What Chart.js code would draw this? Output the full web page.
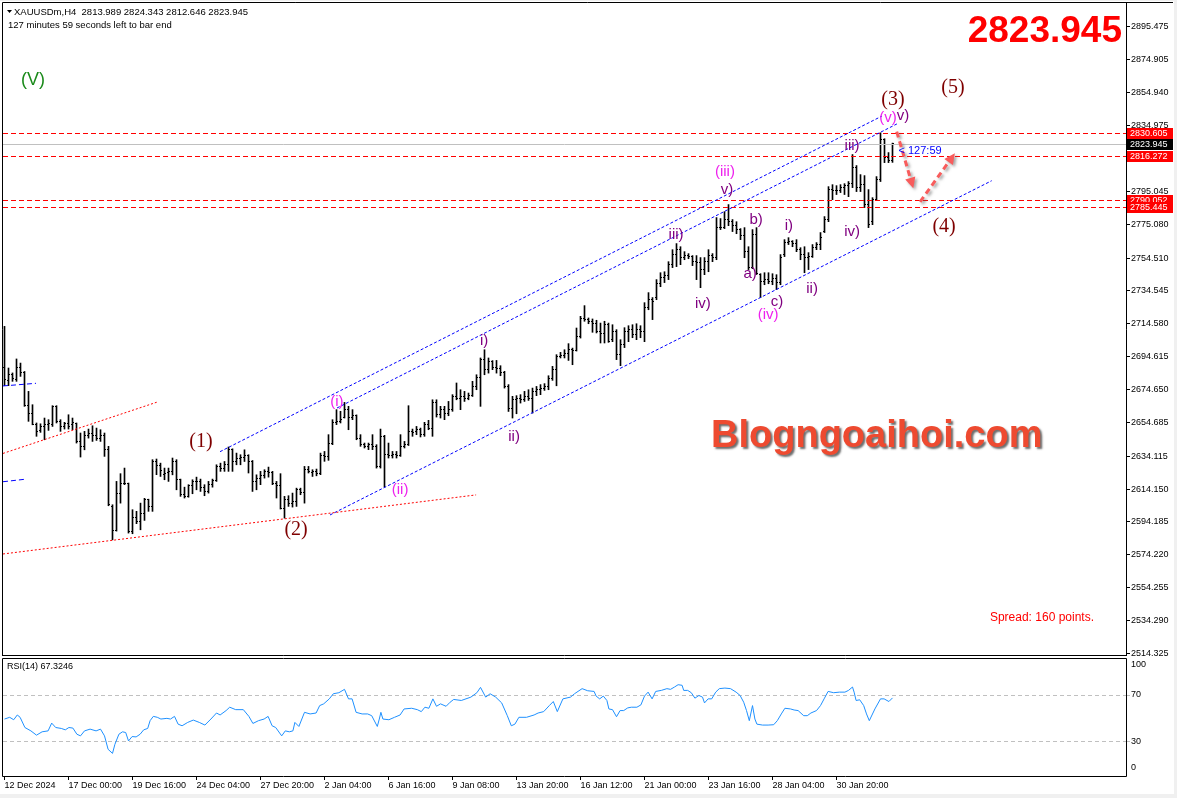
<!DOCTYPE html>
<html>
<head>
<meta charset="utf-8">
<script src="https://cdn.jsdelivr.net/npm/chart.js@4.4.1/dist/chart.umd.min.js"></script>
<style>
  html, body { margin: 0; padding: 0; background: #f0f0f0; }
  #win { position: absolute; left: 0; top: 1px; width: 1174px; height: 793px; background: #fff; }
  canvas { position: absolute; left: 0; }
  #main { top: 0; }
  #rsi { top: 658px; }
</style>
</head>
<body>
<div id="win"></div>
<canvas id="main" width="1177" height="658"></canvas>
<canvas id="rsi" width="1177" height="140"></canvas>
<script>
// H4 bars, XAUUSDm, 12 Dec 2024 .. 31 Jan 2025
const OPEN = [
  2688.0, 2680.2, 2683.6, 2680.6, 2688.3, 2685.0, 2665.0, 2660.3, 2653.2, 2649.8,
  2652.2, 2653.2, 2653.2, 2664.4, 2654.9, 2652.2, 2653.8, 2653.2, 2653.8, 2643.1,
  2640.1, 2646.6, 2647.8, 2646.6, 2645.1, 2646.6, 2638.0, 2603.6, 2589.0, 2611.7,
  2617.4, 2617.4, 2588.4, 2597.1, 2594.5, 2599.6, 2607.7, 2603.6, 2631.0, 2628.3,
  2622.8, 2624.3, 2624.9, 2630.9, 2619.8, 2610.7, 2609.7, 2616.2, 2618.8, 2618.8,
  2615.3, 2612.7, 2616.8, 2619.4, 2627.9, 2626.9, 2628.9, 2638.0, 2630.9, 2633.0,
  2633.6, 2634.4, 2630.9, 2618.8, 2620.8, 2622.2, 2624.9, 2624.3, 2617.8, 2616.2,
  2602.6, 2608.1, 2605.6, 2606.6, 2613.7, 2612.1, 2625.9, 2624.3, 2624.9, 2623.9,
  2634.4, 2634.0, 2642.1, 2654.3, 2655.3, 2657.9, 2662.4, 2657.9, 2658.7, 2645.1,
  2641.1, 2640.1, 2641.1, 2640.1, 2627.9, 2646.2, 2635.0, 2634.4, 2635.0, 2634.4,
  2640.1, 2641.1, 2649.2, 2649.2, 2650.2, 2647.2, 2653.3, 2651.2, 2666.8, 2659.3,
  2662.4, 2659.9, 2662.4, 2670.5, 2669.0, 2670.5, 2669.4, 2670.9, 2676.5, 2682.2,
  2692.7, 2686.7, 2691.7, 2688.3, 2687.7, 2685.0, 2676.5, 2662.8, 2668.4, 2669.4,
  2668.8, 2670.1, 2669.4, 2673.5, 2674.5, 2675.5, 2676.5, 2681.6, 2686.7, 2694.8,
  2695.2, 2696.4, 2698.8, 2698.5, 2706.9, 2717.5, 2717.1, 2716.1, 2715.0, 2710.0,
  2708.6, 2714.0, 2704.9, 2709.8, 2695.8, 2701.9, 2709.8, 2711.0, 2708.0, 2711.0,
  2709.8, 2724.4, 2729.2, 2730.4, 2739.0, 2742.6, 2743.8, 2750.5, 2756.6, 2759.6,
  2754.8, 2756.0, 2755.4, 2752.3, 2752.0, 2747.5, 2752.3, 2756.0, 2754.8, 2773.0,
  2773.2, 2777.9, 2776.6, 2774.2, 2771.8, 2768.1, 2758.4, 2748.7, 2768.7, 2744.4,
  2740.2, 2741.4, 2740.2, 2742.0, 2739.6, 2756.6, 2763.9, 2764.5, 2763.3, 2759.6,
  2756.6, 2754.8, 2755.4, 2760.8, 2762.7, 2770.6, 2777.9, 2796.1, 2795.5, 2795.8,
  2797.3, 2798.5, 2799.7, 2809.5, 2797.3, 2799.1, 2787.0, 2776.6, 2790.0, 2802.2,
  2826.5, 2815.6, 2813.989
];
const HIGH = [
  2713.0, 2687.7, 2684.7, 2693.2, 2690.7, 2685.6, 2673.5, 2665.4, 2654.3, 2653.8,
  2657.3, 2656.3, 2664.8, 2664.8, 2656.3, 2654.7, 2659.3, 2657.3, 2654.3, 2648.2,
  2649.2, 2650.6, 2652.6, 2651.2, 2650.2, 2648.2, 2640.1, 2604.6, 2618.8, 2623.5,
  2626.9, 2617.8, 2601.6, 2600.6, 2605.6, 2608.5, 2608.0, 2632.0, 2632.4, 2629.9,
  2626.9, 2626.9, 2633.0, 2632.0, 2620.2, 2615.3, 2616.8, 2619.8, 2621.4, 2620.2,
  2616.8, 2618.8, 2620.2, 2628.9, 2629.9, 2630.9, 2639.7, 2638.6, 2636.0, 2635.0,
  2638.0, 2635.0, 2631.5, 2622.8, 2624.9, 2625.9, 2627.5, 2624.9, 2618.8, 2623.5,
  2609.7, 2610.1, 2611.7, 2614.7, 2614.7, 2627.9, 2627.9, 2625.9, 2626.3, 2636.0,
  2637.0, 2647.2, 2656.3, 2662.4, 2661.4, 2666.8, 2664.4, 2662.4, 2659.2, 2647.2,
  2642.1, 2642.1, 2647.2, 2641.1, 2650.6, 2646.8, 2642.1, 2637.0, 2637.0, 2647.2,
  2643.1, 2664.8, 2650.6, 2652.2, 2651.2, 2654.7, 2655.9, 2668.4, 2668.4, 2664.4,
  2664.4, 2667.4, 2671.5, 2678.6, 2674.5, 2673.5, 2672.5, 2679.6, 2683.6, 2693.8,
  2698.8, 2693.8, 2692.2, 2692.3, 2689.1, 2685.7, 2677.6, 2670.5, 2670.9, 2671.5,
  2673.5, 2674.5, 2675.5, 2676.5, 2677.6, 2678.2, 2683.0, 2688.7, 2695.8, 2697.2,
  2698.8, 2702.5, 2699.8, 2712.0, 2719.1, 2725.6, 2718.1, 2717.5, 2716.7, 2715.0,
  2716.1, 2715.0, 2714.0, 2711.0, 2704.9, 2712.2, 2713.4, 2714.0, 2714.6, 2713.4,
  2727.4, 2733.5, 2730.5, 2741.4, 2745.6, 2746.2, 2752.3, 2759.6, 2763.3, 2761.4,
  2758.4, 2757.2, 2756.0, 2756.0, 2754.8, 2754.8, 2759.6, 2757.2, 2779.1, 2778.5,
  2782.7, 2787.0, 2777.9, 2776.6, 2772.4, 2773.0, 2761.4, 2771.8, 2773.0, 2745.0,
  2745.6, 2745.6, 2745.0, 2744.4, 2756.6, 2765.7, 2766.9, 2765.1, 2765.7, 2760.8,
  2761.4, 2757.8, 2762.7, 2763.9, 2770.0, 2779.7, 2797.9, 2799.1, 2798.5, 2799.1,
  2799.7, 2801.0, 2817.4, 2810.7, 2805.2, 2804.6, 2796.1, 2791.2, 2804.0, 2830.6,
  2827.0, 2818.6, 2824.343
];
const LOW = [
  2677.0, 2677.0, 2679.6, 2679.6, 2682.6, 2664.4, 2655.3, 2653.2, 2646.2, 2648.6,
  2644.1, 2649.8, 2652.2, 2654.3, 2649.2, 2650.6, 2650.6, 2650.2, 2642.1, 2633.6,
  2638.0, 2645.1, 2643.1, 2643.7, 2643.1, 2634.0, 2604.0, 2583.3, 2588.6, 2605.6,
  2616.8, 2587.4, 2587.0, 2593.1, 2589.4, 2595.1, 2600.6, 2600.6, 2622.9, 2621.8,
  2619.8, 2618.8, 2622.8, 2613.7, 2609.7, 2608.7, 2609.2, 2611.3, 2613.7, 2612.7,
  2610.1, 2611.7, 2615.3, 2618.8, 2624.9, 2624.9, 2624.9, 2624.9, 2628.9, 2628.9,
  2630.9, 2623.9, 2612.7, 2613.7, 2616.8, 2620.8, 2621.4, 2616.8, 2608.7, 2602.0,
  2596.5, 2603.6, 2603.2, 2603.6, 2610.7, 2605.6, 2623.9, 2621.8, 2622.2, 2622.9,
  2631.0, 2631.6, 2641.1, 2653.3, 2654.3, 2657.3, 2650.2, 2656.3, 2644.1, 2640.1,
  2639.1, 2638.1, 2638.1, 2626.9, 2626.9, 2615.4, 2633.0, 2633.0, 2633.0, 2634.0,
  2639.1, 2640.6, 2646.2, 2647.2, 2645.8, 2646.2, 2650.2, 2646.2, 2657.9, 2657.3,
  2656.3, 2658.7, 2661.4, 2668.4, 2662.4, 2667.4, 2668.4, 2670.4, 2674.5, 2664.4,
  2683.6, 2684.6, 2686.7, 2684.6, 2683.0, 2675.5, 2661.3, 2657.3, 2659.9, 2666.4,
  2667.4, 2668.0, 2660.3, 2670.9, 2671.5, 2674.1, 2674.5, 2680.2, 2676.9, 2693.8,
  2693.8, 2692.3, 2689.7, 2698.0, 2705.9, 2716.1, 2714.6, 2709.4, 2709.0, 2702.9,
  2702.9, 2703.3, 2703.7, 2692.8, 2689.1, 2700.1, 2703.7, 2706.1, 2704.9, 2706.1,
  2703.7, 2723.1, 2717.1, 2729.2, 2737.1, 2739.6, 2741.4, 2748.7, 2749.3, 2750.5,
  2753.5, 2754.1, 2749.9, 2741.4, 2736.5, 2744.4, 2746.2, 2752.3, 2753.5, 2771.8,
  2772.4, 2774.2, 2770.6, 2769.3, 2765.7, 2754.7, 2747.5, 2748.1, 2744.5, 2730.4,
  2738.3, 2738.9, 2738.3, 2735.3, 2738.3, 2755.4, 2762.7, 2761.4, 2758.4, 2753.5,
  2745.6, 2747.5, 2754.9, 2759.6, 2759.6, 2770.0, 2776.6, 2790.0, 2793.1, 2794.3,
  2793.1, 2791.8, 2797.3, 2794.9, 2794.9, 2785.2, 2773.0, 2774.8, 2789.5, 2801.0,
  2812.5, 2812.5, 2812.646
];
const CLOSE = [
  2680.5, 2683.6, 2681.2, 2688.3, 2685.0, 2665.0, 2660.3, 2653.6, 2649.2, 2652.2,
  2653.2, 2653.8, 2664.4, 2654.9, 2652.2, 2653.8, 2652.2, 2654.3, 2643.1, 2640.1,
  2646.6, 2647.8, 2646.6, 2645.1, 2646.6, 2638.0, 2604.6, 2589.0, 2611.7, 2617.4,
  2617.8, 2588.4, 2597.1, 2594.5, 2599.6, 2607.7, 2603.6, 2631.0, 2628.3, 2625.3,
  2623.5, 2624.9, 2630.9, 2619.8, 2610.7, 2609.7, 2616.2, 2618.8, 2618.6, 2615.3,
  2612.7, 2616.8, 2619.4, 2627.9, 2626.9, 2628.9, 2638.0, 2630.9, 2633.0, 2633.6,
  2634.4, 2630.9, 2618.8, 2620.8, 2622.2, 2624.9, 2624.3, 2617.8, 2616.2, 2602.6,
  2608.1, 2605.6, 2606.6, 2613.7, 2612.1, 2625.9, 2624.9, 2624.9, 2623.9, 2634.4,
  2634.0, 2642.1, 2654.3, 2655.3, 2656.3, 2662.4, 2657.9, 2658.7, 2645.1, 2641.1,
  2640.1, 2641.1, 2640.1, 2627.9, 2646.2, 2635.0, 2634.4, 2635.0, 2634.4, 2640.1,
  2641.1, 2649.2, 2648.8, 2650.2, 2647.2, 2653.3, 2651.2, 2666.8, 2659.3, 2662.4,
  2659.9, 2662.4, 2670.5, 2669.1, 2670.5, 2669.4, 2670.9, 2676.5, 2682.2, 2692.7,
  2686.7, 2691.7, 2688.3, 2687.7, 2685.0, 2676.5, 2662.8, 2668.4, 2669.4, 2668.8,
  2670.1, 2669.4, 2673.5, 2674.5, 2675.5, 2676.5, 2681.6, 2686.7, 2694.8, 2695.2,
  2696.4, 2698.8, 2698.5, 2706.9, 2717.5, 2717.1, 2716.1, 2715.0, 2710.0, 2708.6,
  2714.0, 2703.9, 2709.8, 2695.8, 2701.9, 2709.8, 2711.0, 2708.0, 2711.0, 2709.8,
  2724.4, 2729.2, 2728.0, 2739.0, 2742.6, 2743.8, 2750.5, 2756.6, 2759.6, 2754.8,
  2756.0, 2755.4, 2752.3, 2752.0, 2747.5, 2752.3, 2756.0, 2754.8, 2773.0, 2773.2,
  2777.9, 2776.6, 2774.2, 2771.8, 2768.1, 2758.4, 2748.7, 2768.7, 2745.0, 2740.2,
  2741.4, 2740.2, 2742.0, 2739.6, 2754.8, 2763.9, 2764.5, 2763.3, 2759.6, 2756.6,
  2754.8, 2755.4, 2760.8, 2762.7, 2766.9, 2777.9, 2796.1, 2795.5, 2795.8, 2797.3,
  2798.5, 2799.7, 2809.5, 2797.3, 2799.1, 2787.0, 2774.8, 2790.0, 2802.2, 2826.5,
  2815.6, 2814.0, 2823.945
];

// RSI(14) read at bar positions
const RSI_X = [
  0, 1.3, 2.3, 3.2, 3.9, 5.1, 6.6, 8.0, 9.4, 10.9,
  11.8, 12.8, 14.2, 15.2, 16.1, 17.1, 18.1, 19.0, 20.0, 21.4,
  22.9, 24.0, 25.0, 25.9, 27.0, 27.6, 28.6, 29.5, 30.3, 31.0,
  31.9, 32.9, 33.9, 34.8, 35.8, 36.4, 37.2, 38.2, 39.1, 40.6,
  41.5, 42.5, 43.4, 44.4, 45.8, 47.2, 48.7, 50.1, 51.6, 53.0,
  53.9, 55.4, 56.3, 57.8, 59.7, 61.1, 62.1, 63.5, 64.9, 65.9,
  66.9, 67.8, 69.3, 70.2, 71.2, 72.1, 72.6, 73.6, 75.0, 76.4,
  77.9, 78.8, 79.8, 81.2, 82.2, 83.6, 85.0, 86.0, 86.9, 87.9,
  89.4, 90.8, 91.8, 93.2, 93.7, 94.1, 94.6, 96.1, 97.5, 98.9,
  99.9, 101.8, 103.2, 104.2, 105.1, 106.1, 107.1, 108.0, 109.0, 110.4,
  111.4, 112.3, 114.2, 116.6, 118.1, 119.0, 120.3, 121.4, 122.8, 124.3,
  125.7, 126.7, 127.6, 128.6, 130.5, 132.4, 133.4, 134.8, 136.2, 137.2,
  138.2, 139.6, 141.5, 142.5, 144.4, 145.8, 147.4, 147.9, 148.8, 149.7,
  150.6, 151.1, 152.0, 153.0, 153.9, 154.8, 155.8, 156.7, 158.1, 159.1,
  160.0, 160.9, 161.9, 162.8, 164.2, 165.6, 166.5, 167.5, 168.4, 169.4,
  169.8, 170.8, 171.7, 172.6, 173.6, 174.5, 175.0, 175.9, 176.8, 177.8,
  178.7, 180.1, 181.5, 182.9, 183.9, 184.8, 185.5, 186.2, 187.0, 187.6,
  188.1, 189.5, 190.9, 192.3, 193.2, 194.2, 195.1, 196.5, 197.4, 198.4,
  199.8, 200.7, 201.6, 203.0, 204.0, 204.9, 205.9, 207.3, 208.7, 210.1,
  211.0, 212.0, 212.4, 212.9, 213.8, 214.8, 215.5, 216.2, 217.6, 219.0,
  219.9, 221.1, 222
];
const RSI_Y = [
  49.1, 50.6, 48.5, 52.6, 50.6, 41.8, 38.9, 35.2, 38.1, 38.9,
  45.6, 41.8, 41.0, 39.8, 41.8, 41.3, 36.0, 34.6, 38.9, 40.4,
  38.9, 40.4, 34.6, 23.0, 19.5, 27.3, 36.0, 38.1, 37.5, 30.2,
  34.0, 33.7, 36.0, 39.8, 41.0, 47.7, 51.4, 50.6, 49.1, 49.7,
  49.1, 51.4, 44.7, 43.3, 46.2, 48.2, 46.2, 43.9, 49.1, 54.3,
  52.6, 56.4, 59.3, 57.2, 57.2, 51.4, 45.3, 47.7, 49.1, 51.4,
  43.3, 41.8, 34.6, 38.9, 38.1, 38.9, 46.2, 42.7, 54.9, 53.5,
  54.3, 60.7, 62.2, 66.5, 70.9, 71.8, 74.7, 66.5, 66.5, 54.9,
  53.5, 53.5, 52.0, 42.7, 49.1, 54.9, 49.1, 48.5, 50.6, 52.6,
  57.8, 58.4, 57.2, 55.5, 59.3, 58.4, 66.5, 60.1, 62.2, 60.1,
  63.6, 66.0, 65.1, 68.0, 71.8, 76.4, 68.0, 70.9, 68.0, 63.0,
  52.0, 43.3, 44.7, 50.6, 50.6, 52.6, 54.3, 55.5, 60.7, 64.2,
  55.5, 66.5, 68.0, 70.9, 75.3, 73.5, 72.9, 68.9, 66.5, 68.9,
  65.1, 57.8, 57.2, 51.1, 56.4, 56.4, 58.7, 59.3, 59.3, 61.3,
  68.9, 72.3, 66.5, 72.9, 73.8, 75.3, 74.7, 76.7, 78.7, 78.2,
  73.8, 73.8, 71.8, 67.1, 69.4, 68.0, 63.0, 66.5, 66.5, 72.3,
  75.3, 75.8, 75.3, 72.3, 69.4, 63.6, 56.4, 47.7, 60.7, 49.1,
  44.7, 43.9, 43.9, 44.2, 47.7, 53.5, 58.4, 57.8, 56.9, 56.4,
  52.0, 52.0, 54.3, 56.4, 60.7, 66.5, 72.9, 71.8, 72.3, 72.3,
  73.8, 76.7, 72.3, 65.1, 65.7, 60.7, 53.5, 47.7, 57.8, 66.5,
  66.5, 64.2, 67.3246
];

const PRICE_TICKS = [
  2895.475, 2874.905, 2854.940, 2834.975, 2815.010, 2795.045, 2775.080,
  2754.510, 2734.545, 2714.580, 2694.615, 2674.650, 2654.685, 2634.115,
  2614.150, 2594.185, 2574.220, 2554.255, 2534.290, 2514.325
];
const TIME_TICKS = [0, 16, 32, 48, 64, 80, 96, 112, 128, 144, 160, 176, 192, 208];
const TIME_LABELS = [
  '12 Dec 2024', '17 Dec 00:00', '19 Dec 16:00', '24 Dec 04:00', '27 Dec 20:00',
  '2 Jan 04:00', '6 Jan 16:00', '9 Jan 08:00', '13 Jan 20:00', '16 Jan 12:00',
  '21 Jan 00:00', '23 Jan 16:00', '28 Jan 04:00', '30 Jan 20:00'
];
const RSI_LEVELS = [70, 30];
const LEVELS = [2830.605, 2816.272, 2790.052, 2785.445];
const BID = 2823.945;

// drawn objects, in bar index / price
const TRENDS = [
  { from: [53.875, 2636.85], to: [219.375, 2840.8], color: '#0000ff', dash: [3, 2] },
  { from: [83.125, 2663.4], to: [223.1, 2836.0], color: '#0000ff', dash: [3, 2] },
  { from: [81.375, 2598.4], to: [246.8, 2801.5], color: '#0000ff', dash: [3, 2] },
  { from: [-0.375, 2635.8], to: [38.05, 2666.9], color: '#ff0000', dash: [2, 2] },
  { from: [-0.375, 2574.7], to: [117.9, 2610.6], color: '#ff0000', dash: [2, 2] },
  { from: [-0.375, 2676.8], to: [7.875, 2678.4], color: '#0000ff', dash: [5, 3] },
  { from: [-0.375, 2618.6], to: [5.125, 2620.1], color: '#0000ff', dash: [5, 3] }
];
const ARROWS = [
  { from: [223.05, 2831.3], to: [227.2, 2796.9] },
  { from: [228.9, 2788.7], to: [237.6, 2818.2] }
];
const WAVES = [
  ['(V)', 7.1, 2862.7, 'cycle'],
  ['(1)', 49.1, 2642.7, 'major'], ['(2)', 72.9, 2589.3, 'major'],
  ['(3)', 222.1, 2850.5, 'major'], ['(4)', 234.9, 2773.4, 'major'],
  ['(5)', 237.1, 2857.8, 'major'],
  ['(i)', 83.1, 2667.0, 'minor'], ['(ii)', 98.9, 2613.6, 'minor'],
  ['(iii)', 180.1, 2806.8, 'minor'], ['(iv)', 190.9, 2719.9, 'minor'],
  ['(v)', 220.9, 2839.6, 'minor'],
  ['i)', 119.9, 2704.1, 'minute'], ['ii)', 127.4, 2645.8, 'minute'],
  ['iii)', 167.9, 2768.5, 'minute'], ['iv)', 174.6, 2726.6, 'minute'],
  ['v)', 180.6, 2795.9, 'minute'], ['a)', 186.4, 2744.8, 'minute'],
  ['b)', 187.9, 2777.6, 'minute'], ['c)', 193.1, 2727.8, 'minute'],
  ['i)', 196.1, 2774.0, 'minute'], ['ii)', 201.9, 2735.7, 'minute'],
  ['iii)', 211.9, 2822.6, 'minute'], ['iv)', 211.9, 2770.3, 'minute'],
  ['v)', 224.6, 2840.8, 'minute']
];

const SANS = '"Liberation Sans", Arial, sans-serif';
const WAVE_STYLE = {
  cycle: { font: '18px ' + SANS, color: '#1a8a1a' },
  major: { font: '20px "Liberation Serif", serif', color: '#7f0000' },
  minor: { font: '15px ' + SANS, color: '#ee22ee' },
  minute: { font: '15px ' + SANS, color: '#800080' }
};
const X_MIN = -0.375, X_MAX = 280.375;

function pinAxis(w, h) {
  return axis => {
    if (w != null) axis.width = w;
    if (h != null) axis.height = h;
    axis.paddingTop = axis.paddingBottom = axis.paddingLeft = axis.paddingRight = 0;
  };
}

function stroke(ctx, x1, y1, x2, y2, color, dash, width) {
  ctx.beginPath();
  ctx.setLineDash(dash || []);
  ctx.strokeStyle = color;
  ctx.lineWidth = width || 1;
  ctx.moveTo(x1, y1);
  ctx.lineTo(x2, y2);
  ctx.stroke();
}

const mainDecor = {
  id: 'mainDecor',
  afterDatasetsDraw(chart) {
    const { ctx, chartArea: a, scales: { x, y } } = chart;
    const px = v => x.getPixelForValue(v);
    const py = v => y.getPixelForValue(v);
    ctx.save();

    // open / close ticks
    ctx.fillStyle = '#000';
    OPEN.forEach((o, i) => {
      const c = Math.floor(px(i));
      ctx.fillRect(c - 1, Math.floor(py(o)), 1, 1);
      ctx.fillRect(c + 1, Math.floor(py(CLOSE[i])), 1, 1);
    });

    ctx.beginPath();
    ctx.rect(a.left, a.top, a.right - a.left, a.bottom - a.top);
    ctx.clip();

    stroke(ctx, a.left, Math.round(py(BID)) + 0.5, a.right, Math.round(py(BID)) + 0.5, '#c0c0c0');
    LEVELS.forEach(v => {
      const yy = Math.round(py(v)) + 0.5;
      stroke(ctx, a.left, yy, a.right, yy, '#ff0000', [5, 3]);
    });
    TRENDS.forEach(t => {
      stroke(ctx, px(t.from[0]), py(t.from[1]), px(t.to[0]), py(t.to[1]), t.color, t.dash);
    });

    // wave labels
    ctx.textAlign = 'center';
    ctx.textBaseline = 'middle';
    WAVES.forEach(([txt, i, p, kind]) => {
      ctx.font = WAVE_STYLE[kind].font;
      ctx.fillStyle = WAVE_STYLE[kind].color;
      ctx.fillText(txt, px(i), py(p));
    });

    // projected path arrows
    ARROWS.forEach(ar => {
      const x1 = px(ar.from[0]), y1 = py(ar.from[1]);
      const x2 = px(ar.to[0]), y2 = py(ar.to[1]);
      const ang = Math.atan2(y2 - y1, x2 - x1);
      const hl = 12;
      ctx.save();
      ctx.shadowColor = 'rgba(90,90,90,0.55)';
      ctx.shadowBlur = 3;
      ctx.shadowOffsetX = 2;
      ctx.shadowOffsetY = 2;
      stroke(ctx, x1, y1, x2 - Math.cos(ang) * hl * 0.8, y2 - Math.sin(ang) * hl * 0.8, '#f85c5c', [6, 4], 3);
      ctx.setLineDash([]);
      ctx.fillStyle = '#f85c5c';
      ctx.beginPath();
      ctx.moveTo(x2, y2);
      ctx.lineTo(x2 - hl * Math.cos(ang - 0.45), y2 - hl * Math.sin(ang - 0.45));
      ctx.lineTo(x2 - hl * Math.cos(ang + 0.45), y2 - hl * Math.sin(ang + 0.45));
      ctx.closePath();
      ctx.fill();
      ctx.restore();
    });

    // countdown next to last bar
    ctx.font = '11px ' + SANS;
    ctx.fillStyle = '#0000ff';
    ctx.textAlign = 'left';
    ctx.fillText('< 127:59', px(OPEN.length - 1) + 6, py(BID) + 7);

    // watermark
    ctx.save();
    ctx.font = 'bold 38px ' + SANS;
    ctx.shadowColor = 'rgba(60,60,60,0.75)';
    ctx.shadowBlur = 2;
    ctx.shadowOffsetX = 2;
    ctx.shadowOffsetY = 2;
    ctx.fillStyle = '#ee4a30';
    ctx.textBaseline = 'alphabetic';
    ctx.fillText('Blogngoaihoi.com', 711, 447);
    ctx.restore();

    ctx.font = '12px ' + SANS;
    ctx.fillStyle = '#ff0000';
    ctx.textAlign = 'right';
    ctx.fillText('Spread: 160 points.', 1094, 618);

    ctx.font = 'bold 37px ' + SANS;
    ctx.textBaseline = 'alphabetic';
    ctx.fillText('2823.945', 1122, 42);
    ctx.restore();

    // header
    ctx.save();
    ctx.fillStyle = '#000';
    ctx.beginPath();
    ctx.moveTo(7, 10); ctx.lineTo(12, 10); ctx.lineTo(9.5, 13); ctx.closePath();
    ctx.fill();
    ctx.font = '9.5px ' + SANS;
    ctx.textBaseline = 'middle';
    ctx.fillText('XAUUSDm,H4  2813.989 2824.343 2812.646 2823.945', 14, 12);
    ctx.fillText('127 minutes 59 seconds left to bar end', 8, 25);

    // price boxes on the axis
    ctx.font = '9px ' + SANS;
    const box = (v, bg) => {
      const yy = Math.round(py(v));
      ctx.fillStyle = bg;
      ctx.fillRect(1127, yy - 5, 46, 11);
      ctx.fillStyle = '#fff';
      ctx.fillText(v.toFixed(3), 1130, yy + 0.5);
    };
    box(LEVELS[0], '#ff0000');
    box(BID, '#000');
    LEVELS.slice(1).forEach(v => box(v, '#ff0000'));

    // frame
    ctx.strokeStyle = '#000';
    ctx.lineWidth = 1;
    ctx.setLineDash([]);
    ctx.beginPath();
    ctx.moveTo(2.5, 656); ctx.lineTo(2.5, 2.5); ctx.lineTo(1173, 2.5);
    ctx.moveTo(1126.5, 2.5); ctx.lineTo(1126.5, 656);
    ctx.moveTo(2, 655.5); ctx.lineTo(1127, 655.5);
    ctx.stroke();
    ctx.restore();
  }
};

const rsiDecor = {
  id: 'rsiDecor',
  beforeDatasetsDraw(chart) {
    const { ctx, chartArea: a, scales: { y } } = chart;
    ctx.save();
    RSI_LEVELS.forEach(v => {
      const yy = Math.round(y.getPixelForValue(v)) + 0.5;
      stroke(ctx, a.left, yy, a.right, yy, '#c0c0c0', [4, 3]);
      stroke(ctx, a.right + 1, yy, a.right + 4, yy, '#c0c0c0');
    });
    ctx.restore();
  },
  afterDraw(chart) {
    const { ctx, chartArea: a, scales: { y } } = chart;
    ctx.save();
    ctx.font = '9px ' + SANS;
    ctx.fillStyle = '#000';
    ctx.textBaseline = 'middle';
    [100, 70, 30, 0].forEach(v => {
      const yy = Math.min(Math.max(y.getPixelForValue(v), a.top + 5), a.bottom - 8);
      ctx.fillText(String(v), 1131, yy);
    });
    ctx.fillText('RSI(14) 67.3246', 7, 9);
    ctx.strokeStyle = '#000';
    ctx.lineWidth = 1;
    ctx.beginPath();
    ctx.moveTo(2.5, 0.5); ctx.lineTo(1126.5, 0.5); ctx.lineTo(1126.5, 118.5);
    ctx.lineTo(2.5, 118.5); ctx.closePath();
    ctx.stroke();
    ctx.restore();
  }
};

const common = {
  responsive: false,
  animation: false,
  devicePixelRatio: 1,
  events: [],
  plugins: { legend: { display: false }, tooltip: { enabled: false } }
};

new Chart(document.getElementById('main'), {
  type: 'bar',
  data: {
    datasets: [{
      data: HIGH.map((h, i) => ({ x: i, y: [LOW[i], h] })),
      backgroundColor: '#000',
      borderWidth: 0,
      barThickness: 1,
      grouped: false
    }]
  },
  options: {
    ...common,
    layout: { padding: { left: 3, top: 3, right: 0, bottom: 3 } },
    scales: {
      x: { type: 'linear', min: X_MIN, max: X_MAX, bounds: 'data', offset: false, display: false },
      y: {
        type: 'linear', position: 'right', min: 2513.32, max: 2909.48, bounds: 'data',
        afterBuildTicks: axis => { axis.ticks = PRICE_TICKS.map(v => ({ value: v })); },
        afterFit: pinAxis(51, null),
        ticks: { autoSkip: false, padding: 1, color: '#000', font: { family: SANS, size: 9 }, callback: v => v.toFixed(3) },
        grid: { drawOnChartArea: false, tickLength: 4, color: '#000', tickColor: '#000' },
        border: { display: false }
      }
    }
  },
  plugins: [mainDecor]
});

new Chart(document.getElementById('rsi'), {
  type: 'line',
  data: {
    datasets: [{
      data: RSI_X.map((v, i) => ({ x: v, y: RSI_Y[i] })),
      borderColor: '#1e90ff',
      borderWidth: 1,
      pointRadius: 0,
      tension: 0
    }]
  },
  options: {
    ...common,
    layout: { padding: { left: 3, top: 2, right: 0, bottom: 0 } },
    scales: {
      x: {
        type: 'linear', position: 'bottom', min: X_MIN, max: X_MAX, bounds: 'data', offset: false,
        afterBuildTicks: axis => { axis.ticks = TIME_TICKS.map(v => ({ value: v })); },
        afterFit: pinAxis(null, 22),
        ticks: { autoSkip: false, maxRotation: 0, minRotation: 0, align: 'start', padding: 0, color: '#000',
                 font: { family: SANS, size: 9 }, callback: (v, i) => TIME_LABELS[i] },
        grid: { drawOnChartArea: false, tickLength: 4, color: '#000', tickColor: '#000' },
        border: { display: false }
      },
      y: {
        type: 'linear', position: 'right', min: 0, max: 100, bounds: 'data',
        afterFit: pinAxis(51, null),
        ticks: { display: false },
        grid: { display: false },
        border: { display: false }
      }
    }
  },
  plugins: [rsiDecor]
});
</script>
</body>
</html>
